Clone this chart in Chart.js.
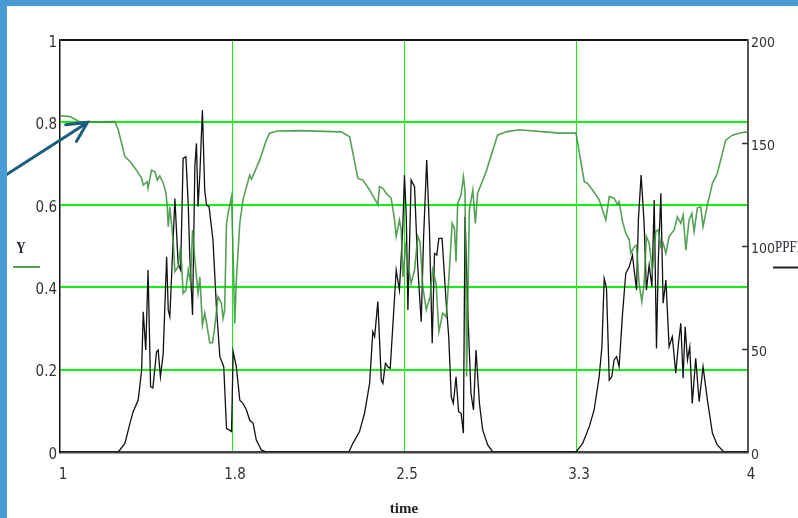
<!DOCTYPE html>
<html>
<head>
<meta charset="utf-8">
<script src="https://cdn.jsdelivr.net/npm/chart.js@4"></script>
<style>
  body { margin: 0; background: #fff; }
  #wrap { position: relative; width: 798px; height: 518px; overflow: hidden; }
  #edgeLeft { position: absolute; left: 0; top: 0; width: 7px; height: 518px; background: #4a9bd5; }
  #edgeTop { position: absolute; left: 0; top: 0; width: 798px; height: 6px; background: #4a9bd5; }
</style>
</head>
<body>
<div id="wrap">
  <canvas id="chart" width="798" height="518"></canvas>
  <div id="edgeLeft"></div>
  <div id="edgeTop"></div>
</div>
<script>
// time axis ticks (values and printed labels)
const xTickValues = [1, 1.75, 2.5, 3.25, 4];
const xTickLabels = ['1', '1.8', '2.5', '3.3', '4'];
const yTickValues = [0, 0.2, 0.4, 0.6, 0.8, 1];
const yTickLabels = ['0', '0.2', '0.4', '0.6', '0.8', '1'];
const ppfdTickValues = [0, 50, 100, 150, 200];
const ppfdTickLabels = ['0', '50', '100', '150', '200'];

// Y series (left axis)
const yTime = [1.000,1.044,1.087,1.239,1.254,1.283,1.305,1.334,1.356,1.363,
  1.380,1.384,1.399,1.414,1.424,1.435,1.450,1.462,1.467,1.472,
  1.479,1.493,1.501,1.515,1.526,1.537,1.549,1.559,1.569,1.578,
  1.588,1.602,1.610,1.621,1.631,1.639,1.653,1.665,1.675,1.689,
  1.704,1.711,1.718,1.726,1.733,1.748,1.755,1.762,1.769,1.784,
  1.798,1.827,1.835,1.871,1.900,1.914,1.950,2.045,2.227,2.263,
  2.299,2.321,2.350,2.379,2.386,2.393,2.408,2.422,2.444,2.459,
  2.466,2.480,2.488,2.495,2.507,2.517,2.531,2.546,2.560,2.570,
  2.582,2.597,2.614,2.625,2.640,2.652,2.669,2.684,2.698,2.710,
  2.720,2.727,2.734,2.749,2.759,2.766,2.773,2.785,2.800,2.811,
  2.821,2.858,2.908,2.945,3.003,3.177,3.250,3.286,3.300,3.322,
  3.351,3.380,3.395,3.416,3.431,3.438,3.453,3.467,3.482,3.489,
  3.504,3.514,3.525,3.537,3.547,3.557,3.569,3.583,3.598,3.609,
  3.620,3.630,3.642,3.656,3.678,3.692,3.707,3.717,3.729,3.743,
  3.755,3.765,3.779,3.794,3.804,3.823,3.845,3.866,3.903,3.932,
  3.968,4.000];
const yValues = [0.816,0.814,0.801,0.802,0.782,0.717,0.705,0.684,0.664,0.648,
  0.656,0.641,0.684,0.680,0.660,0.670,0.653,0.629,0.600,0.547,
  0.595,0.515,0.438,0.450,0.498,0.385,0.393,0.442,0.413,0.539,
  0.466,0.386,0.425,0.308,0.337,0.313,0.265,0.265,0.304,0.377,
  0.361,0.325,0.345,0.555,0.579,0.620,0.474,0.312,0.417,0.555,
  0.612,0.672,0.662,0.709,0.757,0.774,0.779,0.780,0.777,0.765,
  0.664,0.660,0.636,0.608,0.600,0.644,0.640,0.628,0.616,0.563,
  0.523,0.563,0.539,0.425,0.498,0.458,0.409,0.442,0.523,0.510,
  0.401,0.345,0.377,0.442,0.409,0.292,0.337,0.328,0.442,0.555,
  0.543,0.462,0.604,0.624,0.668,0.636,0.183,0.587,0.636,0.555,
  0.628,0.680,0.769,0.777,0.782,0.774,0.774,0.656,0.652,0.636,
  0.612,0.563,0.620,0.616,0.600,0.608,0.559,0.531,0.515,0.482,
  0.498,0.502,0.409,0.365,0.409,0.523,0.507,0.442,0.535,0.539,
  0.498,0.507,0.482,0.523,0.539,0.571,0.555,0.575,0.490,0.563,
  0.579,0.535,0.592,0.595,0.547,0.600,0.652,0.676,0.757,0.769,
  0.775,0.777];

// PPFD series (right axis)
const ppfdTime = [1.000,1.254,1.283,1.305,1.319,1.341,1.356,1.363,1.374,1.384,
  1.395,1.405,1.421,1.428,1.438,1.450,1.465,1.472,1.479,1.501,
  1.515,1.526,1.537,1.549,1.559,1.566,1.578,1.588,1.595,1.602,
  1.610,1.621,1.631,1.639,1.650,1.667,1.682,1.697,1.714,1.726,
  1.748,1.755,1.769,1.784,1.798,1.813,1.827,1.842,1.856,1.878,
  1.900,2.260,2.277,2.306,2.328,2.350,2.364,2.372,2.386,2.401,
  2.408,2.419,2.429,2.440,2.451,2.466,2.480,2.495,2.502,2.510,
  2.517,2.531,2.546,2.560,2.575,2.585,2.599,2.611,2.623,2.633,
  2.643,2.652,2.666,2.684,2.695,2.706,2.715,2.727,2.738,2.749,
  2.759,2.766,2.778,2.792,2.803,2.814,2.829,2.843,2.865,2.887,
  3.250,3.279,3.308,3.329,3.351,3.363,3.373,3.383,3.395,3.406,
  3.416,3.427,3.438,3.453,3.467,3.482,3.496,3.514,3.522,3.534,
  3.547,3.557,3.569,3.581,3.591,3.601,3.609,3.620,3.630,3.642,
  3.656,3.670,3.685,3.697,3.707,3.717,3.726,3.736,3.746,3.757,
  3.772,3.787,3.804,3.823,3.845,3.866,3.895,4.000];
const ppfdValues = [0,0,4.2,13.9,19.6,25.2,39.8,68.1,49.5,88.3,
  31.7,31.1,48.7,49.5,36.5,47.9,94.8,68.9,65.7,123.1,
  91.6,88.3,142.6,143.3,120.7,94.8,66.5,138.5,149.8,119.1,
  135.3,166.0,127.2,119.9,119.1,102.9,70.5,46.3,41.4,11.5,
  9.9,48.7,41.4,25.2,23.6,20.4,15.5,13.9,5.8,1.0,
  0,0,4.2,9.9,18.8,33.3,58.4,56.0,73.0,34.9,
  33.3,43.1,41.4,40.6,60.8,88.3,78.6,109.4,134.5,114.2,
  68.9,132.0,128.8,89.9,63.2,102.9,141.7,107.8,52.8,96.4,
  95.6,103.7,103.7,72.2,56.0,26.8,23.6,36.5,19.6,18.8,
  9.1,114.2,68.9,28.5,20.4,49.5,23.6,10.7,3.4,0,
  0,4.2,12.3,20.4,36.5,51.1,84.3,79.5,34.9,36.5,
  44.7,46.3,41.4,67.3,86.7,89.9,95.6,78.6,112.6,134.5,
  111.0,78.6,90.8,80.2,122.3,50.3,93.2,125.6,72.2,83.5,
  51.1,56.0,38.2,52.8,62.5,35.8,60.8,44.7,51.1,23.6,
  45.5,24.4,41.4,25.2,9.1,3.4,0,0];

// point the annotation arrow at
const arrowTarget = [1.12, 0.80];

const GRID_GREEN = '#11f011';
const NONE = 'rgba(0,0,0,0)';
const Y_COLOR = 'rgba(55,145,55,0.85)';
const tickFamily = "'DejaVu Sans Condensed', 'Liberation Sans Narrow', Arial, sans-serif";
const tickFont = { family: tickFamily, size: 15 };

// draw text stretched vertically like the narrow lettering of the original
function tallText(ctx, text, x, y, align) {
  ctx.save();
  ctx.translate(x, y);
  ctx.scale(1, 1.35);
  ctx.textAlign = align;
  ctx.textBaseline = 'middle';
  ctx.fillText(text, 0, 0);
  ctx.restore();
}

const extras = {
  id: 'extras',
  afterDraw(chart) {
    const ctx = chart.ctx;
    const xs = chart.scales.x;
    const yl = chart.scales.y;
    const yr = chart.scales.yRight;
    ctx.save();

    // small inward ticks on right axis
    ctx.strokeStyle = '#333';
    ctx.lineWidth = 1.5;
    [50, 100, 150].forEach((v) => {
      const py = Math.round(yr.getPixelForValue(v)) + 0.5;
      ctx.beginPath();
      ctx.moveTo(yr.left - 6, py);
      ctx.lineTo(yr.left, py);
      ctx.stroke();
    });

    // series names
    ctx.fillStyle = '#2a2a3a';
    ctx.font = "bold 13px 'Liberation Serif', serif";
    tallText(ctx, 'Y', 21, 248, 'center');
    ctx.strokeStyle = Y_COLOR;
    ctx.lineWidth = 2;
    ctx.beginPath();
    ctx.moveTo(13, 267);
    ctx.lineTo(40, 267);
    ctx.stroke();

    ctx.font = "13px 'Liberation Serif', serif";
    tallText(ctx, 'PPFD', 775, 247, 'left');
    ctx.strokeStyle = '#222';
    ctx.beginPath();
    ctx.moveTo(773, 267.5);
    ctx.lineTo(798, 267.5);
    ctx.stroke();

    // arrow
    const tx = xs.getPixelForValue(arrowTarget[0]);
    const ty = yl.getPixelForValue(arrowTarget[1]);
    const bx = tx - 90, by = ty + 58;
    const ang = Math.atan2(by - ty, bx - tx);
    ctx.strokeStyle = '#1b5e7d';
    ctx.lineWidth = 3;
    ctx.lineCap = 'round';
    ctx.beginPath();
    ctx.moveTo(bx, by);
    ctx.lineTo(tx, ty);
    ctx.moveTo(tx + 22 * Math.cos(ang - 0.47), ty + 22 * Math.sin(ang - 0.47));
    ctx.lineTo(tx, ty);
    ctx.lineTo(tx + 22 * Math.cos(ang + 0.47), ty + 22 * Math.sin(ang + 0.47));
    ctx.stroke();
    ctx.restore();
  }
};

const ctx = document.getElementById('chart').getContext('2d');
new Chart(ctx, {
  type: 'line',
  data: {
    datasets: [
      {
        label: 'Y',
        data: yTime.map((t, i) => ({ x: t, y: yValues[i] })),
        yAxisID: 'y',
        borderColor: Y_COLOR,
        borderWidth: 1.6,
        pointRadius: 0,
        tension: 0,
      },
      {
        label: 'PPFD',
        data: ppfdTime.map((t, i) => ({ x: t, y: ppfdValues[i] })),
        yAxisID: 'yRight',
        borderColor: '#111',
        borderWidth: 1.3,
        pointRadius: 0,
        tension: 0,
      },
    ],
  },
  options: {
    responsive: false,
    animation: false,
    layout: { padding: { top: 40, left: 0, right: 0, bottom: 0 } },
    plugins: { legend: { display: false }, tooltip: { enabled: false } },
    scales: {
      x: {
        type: 'linear',
        min: 1,
        max: 4,
        afterBuildTicks: (axis) => { axis.ticks = xTickValues.map((v) => ({ value: v })); },
        afterFit: (axis) => { axis.height = 66; },
        ticks: {
          callback: (v, i) => xTickLabels[i],
          font: tickFont,
          color: '#333',
          padding: 14,
          labelOffset: 3,
          maxRotation: 0,
          autoSkip: false,
        },
        grid: {
          drawTicks: false,
          color: [NONE, GRID_GREEN, GRID_GREEN, GRID_GREEN, NONE],
          lineWidth: 1,
        },
        border: { color: '#444', width: 2.5 },
        title: {
          display: true,
          text: 'time',
          font: { family: "'Liberation Serif', serif", size: 15, weight: 'bold' },
          color: '#222',
          padding: { top: 0, bottom: 0 },
        },
      },
      y: {
        position: 'left',
        min: 0,
        max: 1,
        afterBuildTicks: (axis) => { axis.ticks = yTickValues.map((v) => ({ value: v })); },
        afterFit: (axis) => { axis.width = 60; },
        ticks: {
          callback: (v, i) => yTickLabels[i],
          font: tickFont,
          color: '#333',
          padding: 3,
          labelOffset: 3,
        },
        grid: {
          drawTicks: false,
          color: [NONE, GRID_GREEN, GRID_GREEN, GRID_GREEN, GRID_GREEN, '#111'],
          lineWidth: 2,
        },
        border: { color: '#111', width: 1.5 },
      },
      yRight: {
        position: 'right',
        min: 0,
        max: 200,
        afterBuildTicks: (axis) => { axis.ticks = ppfdTickValues.map((v) => ({ value: v })); },
        afterFit: (axis) => { axis.width = 50; },
        ticks: {
          callback: (v, i) => ppfdTickLabels[i],
          font: { family: tickFamily, size: 14 },
          color: '#333',
          padding: 3,
          labelOffset: 3,
        },
        grid: { drawOnChartArea: false, drawTicks: false },
        border: { color: '#555', width: 2 },
      },
    },
  },
  plugins: [extras],
});
</script>
</body>
</html>
